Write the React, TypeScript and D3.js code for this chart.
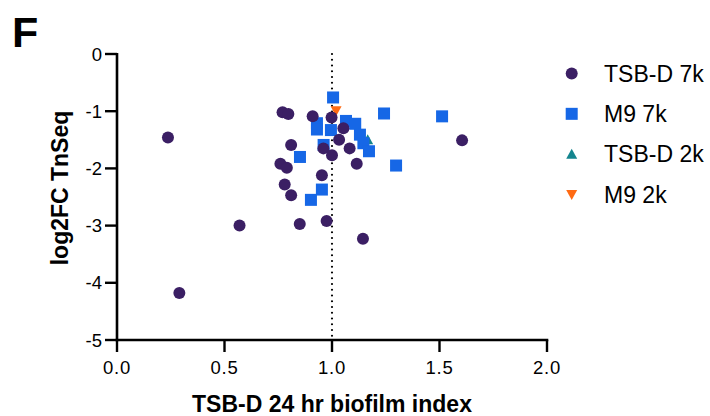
import React from "react";
import * as d3 from "d3";

const xTicks = [0, 0.5, 1.0, 1.5, 2.0];
const yTicks = [0, -1, -2, -3, -4, -5];

// TSB-D 7k (circles)
const tsb7kX = [0.237, 0.77, 0.797, 0.81, 0.76, 0.79, 0.78, 0.81, 0.57, 0.85, 0.29, 0.91, 0.998, 1.053, 1.033, 0.96, 1.0, 1.082, 1.115, 0.953, 0.975, 1.144, 1.605];
const tsb7kY = [-1.46, -1.02, -1.05, -1.59, -1.92, -1.99, -2.28, -2.47, -3.0, -2.97, -4.18, -1.09, -1.11, -1.3, -1.5, -1.65, -1.77, -1.65, -1.92, -2.12, -2.92, -3.23, -1.51];

// M9 7k (squares)
const m97kX = [1.005, 0.93, 0.93, 0.995, 1.065, 1.108, 1.13, 1.146, 1.172, 1.242, 1.512, 1.298, 0.851, 0.961, 0.953, 0.902];
const m97kY = [-0.76, -1.21, -1.32, -1.33, -1.17, -1.22, -1.41, -1.56, -1.7, -1.04, -1.09, -1.95, -1.8, -1.59, -2.37, -2.55];

// TSB-D 2k (triangles)
const tsb2kX = [1.166];
const tsb2kY = [-1.5];

// M9 2k (inverted triangles)
const m92kX = [1.019];
const m92kY = [-0.99];

const legendLabels = ["TSB-D 7k", "M9 7k", "TSB-D 2k", "M9 2k"];
const colors = ["#3b1f64", "#1667e6", "#14858e", "#ff6a13"];

const FONT = "'Liberation Sans', Arial, Helvetica, sans-serif";

function Marker({ type, cx, cy, color }: { type: number; cx: number; cy: number; color: string }) {
  if (type === 0) return <circle cx={cx} cy={cy} r={6} fill={color} />;
  if (type === 1) return <rect x={cx - 6} y={cy - 6} width={12} height={12} fill={color} />;
  if (type === 2) {
    const p = [[cx, cy - 5.5], [cx + 5.5, cy + 4.5], [cx - 5.5, cy + 4.5]];
    return <path d={d3.line()(p as [number, number][]) + "Z"} fill={color} />;
  }
  const p = [[cx - 5.5, cy - 4.5], [cx + 5.5, cy - 4.5], [cx, cy + 5.5]];
  return <path d={d3.line()(p as [number, number][]) + "Z"} fill={color} />;
}

export default function App() {
  const x = d3.scaleLinear().domain([0, 2]).range([117, 547]);
  const y = d3.scaleLinear().domain([0, -5]).range([54, 340]);

  const series = [
    { type: 2, xs: tsb2kX, ys: tsb2kY },
    { type: 3, xs: m92kX, ys: m92kY },
    { type: 1, xs: m97kX, ys: m97kY },
    { type: 0, xs: tsb7kX, ys: tsb7kY },
  ];

  const legendY = d3.scaleLinear().domain([0, 3]).range([73.5, 194.5]);

  return (
    <svg width={710} height={416} style={{ position: "absolute", left: 0, top: 0, background: "#fff" }}>
      <text x={12} y={46.5} fontFamily={FONT} fontWeight="bold" fontSize={43} fill="#000">F</text>

      {/* dotted reference line */}
      <line x1={x(1)} x2={x(1)} y1={y(0)} y2={y(-5)} stroke="#000" strokeWidth={2.2}
        strokeDasharray="0 5.75" strokeLinecap="round" />

      {/* axes */}
      <line x1={x(0)} x2={x(0)} y1={y(0) - 1} y2={y(-5) + 1.3} stroke="#000" strokeWidth={2.6} />
      <line x1={x(0) - 1.3} x2={x(2) + 1.3} y1={y(-5)} y2={y(-5)} stroke="#000" strokeWidth={2.6} />
      {yTicks.map((t) => (
        <g key={"y" + t}>
          <line x1={x(0) - 12} x2={x(0)} y1={y(t)} y2={y(t)} stroke="#000" strokeWidth={2.4} />
          <text x={x(0) - 15} y={y(t)} dy="0.36em" textAnchor="end" fontFamily={FONT} fontSize={18.5} fill="#000">
            {d3.format("d")(t).replace("−", "-")}
          </text>
        </g>
      ))}
      {xTicks.map((t) => (
        <g key={"x" + t}>
          <line x1={x(t)} x2={x(t)} y1={y(-5)} y2={y(-5) + 12} stroke="#000" strokeWidth={2.4} />
          <text x={x(t)} y={374.3} textAnchor="middle" fontFamily={FONT} fontSize={18.5} fill="#000" letterSpacing={0.8}>
            {d3.format(".1f")(t)}
          </text>
        </g>
      ))}

      <text x={332} y={411.5} textAnchor="middle" fontFamily={FONT} fontWeight="bold" fontSize={23} fill="#000">
        TSB-D 24 hr biofilm index
      </text>
      <text transform="translate(67.5,188) rotate(-90)" textAnchor="middle" fontFamily={FONT} fontWeight="bold" fontSize={23} fill="#000">
        log2FC TnSeq
      </text>

      {/* data */}
      {series.map((s) => (
        <g key={"s" + s.type}>
          {s.xs.map((v, i) => (
            <Marker key={i} type={s.type} cx={x(v)} cy={y(s.ys[i])} color={colors[s.type]} />
          ))}
        </g>
      ))}

      {/* legend */}
      {legendLabels.map((l, i) => (
        <g key={l}>
          <Marker type={i} cx={571.7} cy={legendY(i)} color={colors[i]} />
          <text x={604} y={legendY(i)} dy="0.36em" fontFamily={FONT} fontSize={23} fill="#000">{l}</text>
        </g>
      ))}
    </svg>
  );
}
